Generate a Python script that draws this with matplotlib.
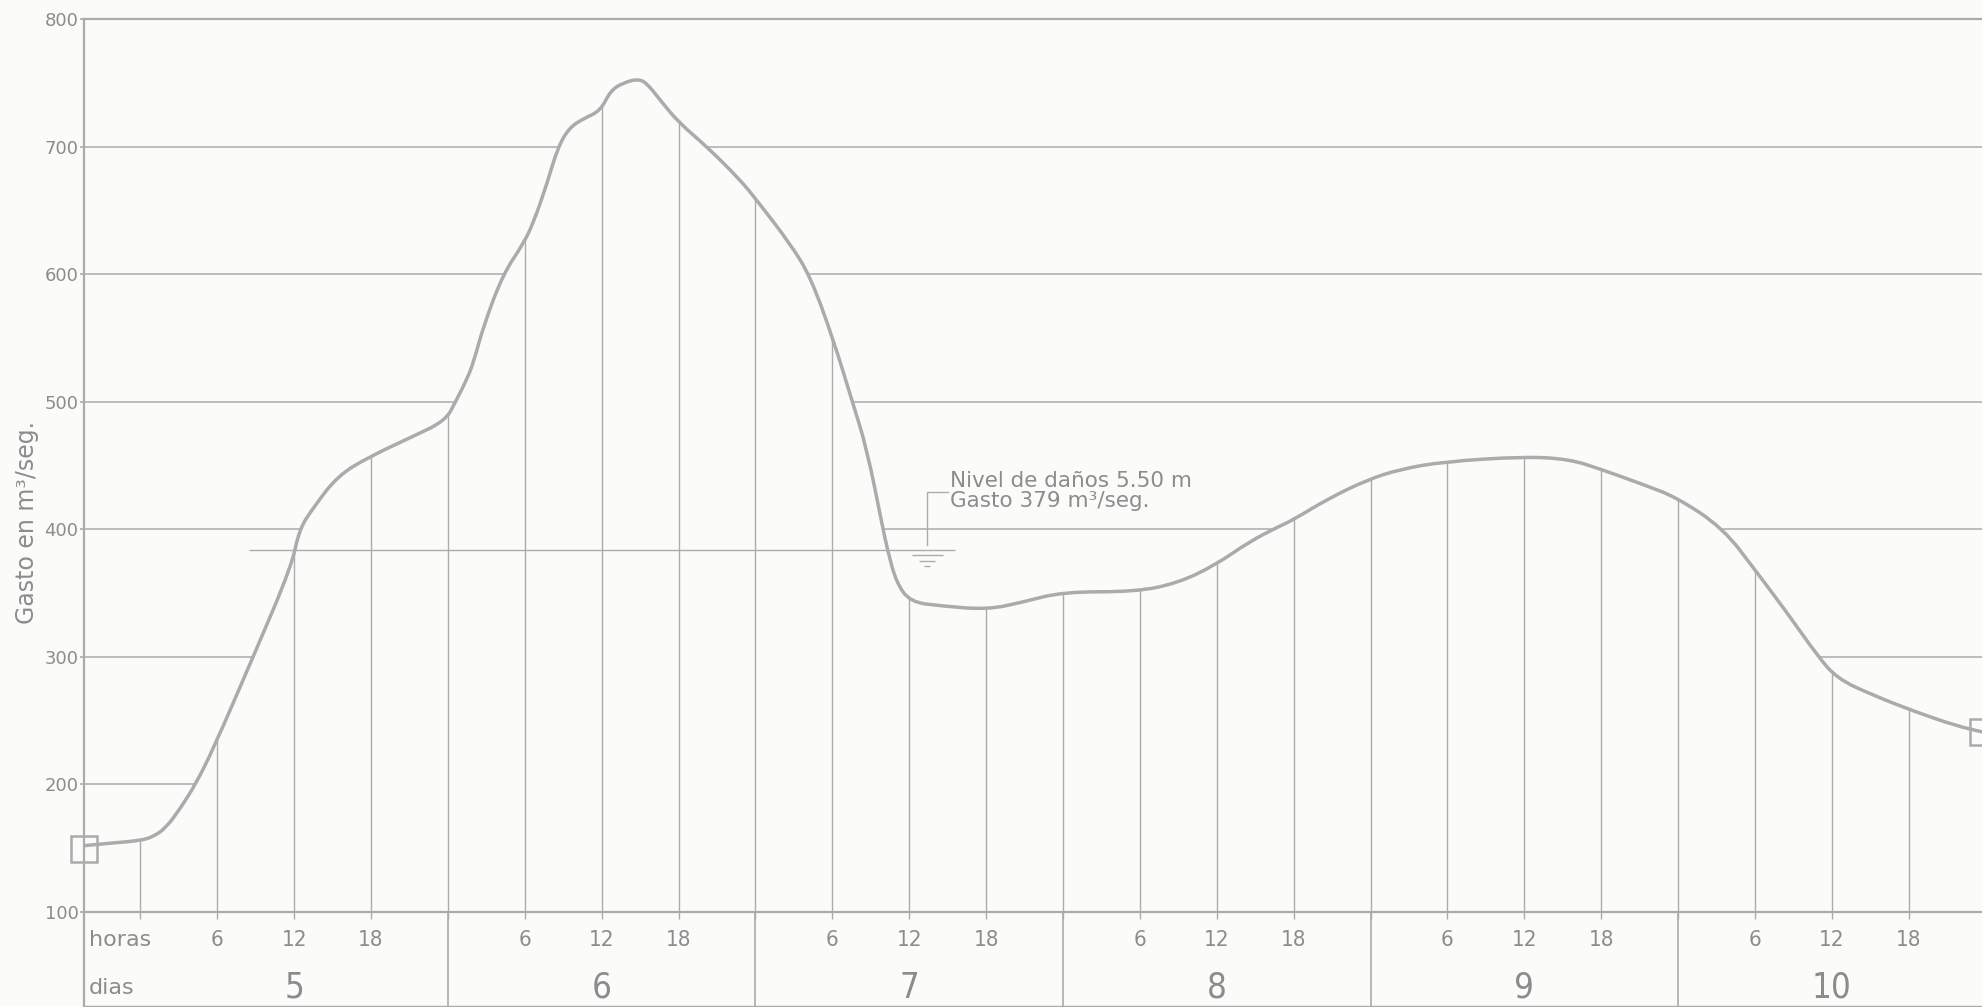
import numpy as np
import matplotlib.pyplot as plt
from matplotlib.path import Path
from matplotlib.patches import PathPatch

# Hydrograph: hours counted from 0 h of day 5, flow in m3/s
hours = [-4.4, -2.3, 0.0, 1.0, 2.0, 3.1, 4.3, 5.7, 8.8, 11.8, 12.4, 13.5, 15.4,
         17.9, 21.1, 23.8, 24.6, 25.5, 26.0, 26.8, 28.3, 29.9, 30.7, 31.7, 32.6,
         33.5, 34.6, 35.9, 36.7, 37.7, 38.8, 39.5, 40.6, 42.0, 44.2, 46.8, 48.1,
         50.7, 52.3, 54.1, 55.5, 56.7, 57.9, 58.3, 59.0, 60.1, 62.4, 66.1, 68.9,
         72.0, 77.7, 81.0, 83.9, 86.5, 88.8, 89.9, 92.7, 95.8, 98.3, 101.7, 108.0,
         111.5, 114.0, 117.3, 119.9, 123.5, 126.1, 128.7, 130.8, 132.4, 135.2,
         138.5, 141.7, 143.8]
flow = [152, 154, 156, 159, 166, 181, 200, 228, 300, 371, 400, 417, 442,
        457, 472, 485, 500, 518, 531, 560, 600, 624, 641, 670, 700,
        715, 722, 728, 744, 750, 753, 750, 736, 719, 700, 674, 658,
        624, 598, 548, 502, 463, 403, 384, 358, 343, 340, 337, 343,
        351, 351, 358, 372, 390, 402, 407, 424, 439, 447, 453, 457,
        455, 447, 435, 425, 401, 367, 332, 302, 283, 270,
        257, 246, 241]

days = [5, 6, 7, 8, 9, 10]
hour_labels = [6, 12, 18]
y_ticks = [100, 200, 300, 400, 500, 600, 700, 800]

damage_flow = 384
damage_text = 'Nivel de daños 5.50 m\nGasto 379 m³/seg.'

paper = '#fbfbfa'
ink = '#ababab'
text_color = '#8c8c8c'
plt.rcParams['font.family'] = 'DejaVu Sans'

fig = plt.figure(figsize=(19.83, 10.07), dpi=100, facecolor=paper)
ax = fig.add_axes([84 / 1983, 1 - 912 / 1007, 1 - 84 / 1983, 893 / 1007])
ax.set_facecolor(paper)
ax.set_xlim(hours[0], hours[-1])
ax.set_ylim(100, 800)

# smooth pen line through the read points (quadratic beziers through midpoints)
pts = np.column_stack([hours, flow]).astype(float)
verts = [pts[0]]
codes = [Path.MOVETO]
for i in range(1, len(pts) - 1):
    verts += [pts[i], (pts[i] + pts[i + 1]) / 2]
    codes += [Path.CURVE3, Path.CURVE3]
verts.append(pts[-1])
codes.append(Path.LINETO)

area_verts = verts + [(hours[-1], 100), (hours[0], 100), (hours[0], flow[0])]
area_codes = codes + [Path.LINETO, Path.LINETO, Path.CLOSEPOLY]

# horizontal grid, hidden below the hydrograph
for v in y_ticks[1:-1]:
    ax.axhline(v, color=ink, lw=1.1, zorder=1)
area = PathPatch(Path(area_verts, area_codes), facecolor=paper, edgecolor='none', zorder=2)
ax.add_patch(area)

# six-hour verticals up to the curve
six = np.arange(0, 144, 6)
vl = ax.vlines(six, 100, 800, color=ink, lw=1.0, zorder=3)
vl.set_clip_path(area)

# hydrograph and end boxes
ax.add_patch(PathPatch(Path(verts, codes), fill=False, edgecolor=ink, lw=2.5,
                       capstyle='round', joinstyle='round', zorder=5))
ax.plot([hours[0], hours[-1]], [flow[0] - 3, flow[-1]], 's', ms=19, mfc='none',
        mec=ink, mew=1.8, clip_on=False, zorder=6)

# damage level
ax.hlines(damage_flow, 8.5, 63.6, color=ink, lw=1.0, zorder=4)
ann_h = 61.4
ax.plot([ann_h, ann_h, ann_h + 1.6], [damage_flow + 4, 429, 429], color=ink, lw=1.0, zorder=4)
for dy, half in [(-4.5, 1.2), (-8.5, 0.62), (-12.5, 0.25)]:
    ax.hlines(damage_flow + dy, ann_h - half, ann_h + half, color=ink, lw=1.0, zorder=4)
ax.text(63.2, 430, damage_text, color=text_color, fontsize=15.5, ha='left', va='center',
        linespacing=1.0, zorder=6)

# axes frame
for side in ['left', 'top', 'bottom']:
    ax.spines[side].set_color(ink)
    ax.spines[side].set_linewidth(1.6)
ax.spines['right'].set_visible(False)

ax.set_yticks(y_ticks)
ax.tick_params(axis='y', colors=ink, labelcolor=text_color, labelsize=13, length=3, width=1.2, pad=1)
ax.set_xticks(six)
ax.set_xticklabels([])
ax.tick_params(axis='x', colors=ink, length=5, width=1.0)

# rows of hours and days below the axis
trans = ax.get_xaxis_transform()
bottom = -0.107
ax.vlines([24, 48, 72, 96, 120], bottom, 0, transform=trans, color=ink, lw=1.2, clip_on=False)
ax.vlines(hours[0], bottom, 0, transform=trans, color=ink, lw=1.6, clip_on=False)
ax.hlines(bottom + 0.002, hours[0], hours[-1], transform=trans, color=ink, lw=1.0, clip_on=False)

ax.text(-4.0, -0.0314, 'horas', transform=trans, color=text_color, fontsize=16,
        ha='left', va='center')
ax.text(-4.0, -0.0851, 'dias', transform=trans, color=text_color, fontsize=16,
        ha='left', va='center')
for i, d in enumerate(days):
    for hl in hour_labels:
        ax.text(i * 24 + hl, -0.0314, str(hl), transform=trans, color=text_color,
                fontsize=16, fontstretch='condensed', ha='center', va='center')
    ax.text(i * 24 + 12, -0.0851, str(d), transform=trans, color=text_color,
            fontsize=25, fontstretch='condensed', ha='center', va='center')

fig.text(27 / 1983, 1 - 523 / 1007, 'Gasto en m³/seg.', rotation=90, color=text_color,
         fontsize=17, ha='center', va='center')

fig.savefig('out.png', dpi=100, facecolor=paper)
